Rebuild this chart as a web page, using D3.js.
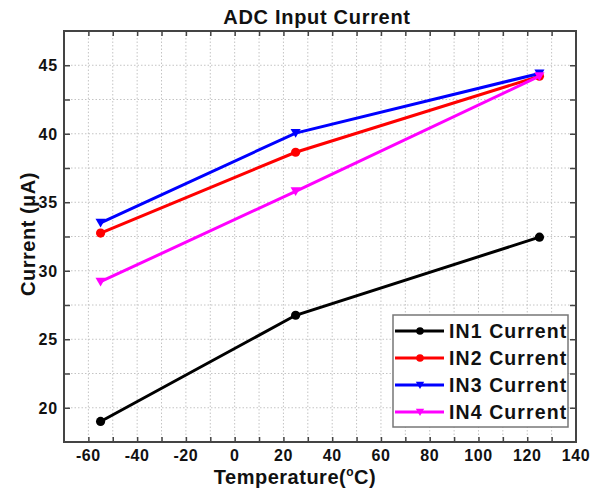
<!DOCTYPE html>
<html>
<head>
<meta charset="utf-8">
<script src="https://cdn.jsdelivr.net/npm/d3@7"></script>
<style>
  body { margin: 0; background: #fff; }
  text { font-family: "Liberation Sans", Arial, sans-serif; font-weight: bold; fill: #111; }
</style>
</head>
<body>
<div id="chart"></div>
<script>
// ADC input current vs temperature

// data
const temps = [-55, 25, 125];
const in1 = [19.0, 26.75, 32.45];
const in2 = [32.75, 38.65, 44.2];
const in3 = [33.5, 40.05, 44.4];
const in4 = [29.2, 35.8, 44.2];
const seriesNames = ["IN1 Current", "IN2 Current", "IN3 Current", "IN4 Current"];
const seriesColors = ["#000000", "#ff0000", "#0000ff", "#ff00ff"];
const seriesMarkers = ["circle", "circle", "down", "down"];
const xTicks = [-60, -40, -20, 0, 20, 40, 60, 80, 100, 120, 140];
const yTicks = [20, 25, 30, 35, 40, 45];

const W = 605, H = 491;
const margin = {top: 31, right: 29, bottom: 49, left: 64},
    width = W - margin.left - margin.right,
    height = H - margin.top - margin.bottom;

const svg = d3.select("#chart")
  .append("svg")
    .attr("width", W)
    .attr("height", H);

const g = svg.append("g")
    .attr("transform", "translate(" + margin.left + "," + margin.top + ")");

let x = d3.scaleLinear().domain([-70, 140]).range([0, width]);
let y = d3.scaleLinear().domain([17.5, 47.5]).range([height, 0]);

const xMinor = d3.range(-60, 140, 10);
const yMinor = d3.range(20, 47.5, 2.5);

// grid
g.append("g").selectAll("line")
  .data(xMinor)
  .join("line")
    .attr("x1", d => x(d)).attr("x2", d => x(d))
    .attr("y1", 0).attr("y2", height)
    .attr("stroke", "#c4c4c4")
    .attr("stroke-dasharray", "1.5,2");
g.append("g").selectAll("line")
  .data(yMinor)
  .join("line")
    .attr("y1", d => y(d)).attr("y2", d => y(d))
    .attr("x1", 0).attr("x2", width)
    .attr("stroke", "#c4c4c4")
    .attr("stroke-dasharray", "1.5,2");

// axes with inward ticks
const frame = "#444";
function styleAxis(sel) {
  sel.select(".domain").remove();
  sel.selectAll(".tick line").attr("stroke", frame).attr("stroke-width", 1.5);
}
g.append("g")
  .attr("transform", "translate(0," + height + ")")
  .call(d3.axisBottom(x).tickValues(xMinor).tickSize(-5).tickFormat(""))
  .call(styleAxis);
g.append("g")
  .call(d3.axisTop(x).tickValues(xMinor).tickSize(-5).tickFormat(""))
  .call(styleAxis);
g.append("g")
  .call(d3.axisLeft(y).tickValues(yMinor).tickSize(-6).tickFormat(""))
  .call(styleAxis);
g.append("g")
  .attr("transform", "translate(" + width + ",0)")
  .call(d3.axisRight(y).tickValues(yMinor).tickSize(-6).tickFormat(""))
  .call(styleAxis);

// tick labels
g.append("g").selectAll("text")
  .data(xTicks)
  .join("text")
    .attr("x", d => x(d))
    .attr("y", height + 19)
    .attr("text-anchor", "middle")
    .attr("font-size", 16)
    .attr("letter-spacing", 0.6)
    .text(d => d);
g.append("g").selectAll("text")
  .data(yTicks)
  .join("text")
    .attr("x", -6)
    .attr("y", d => y(d) + 6)
    .attr("text-anchor", "end")
    .attr("font-size", 16)
    .attr("letter-spacing", 0.8)
    .text(d => d);

// frame
g.append("rect")
  .attr("width", width).attr("height", height)
  .attr("fill", "none")
  .attr("stroke", frame)
  .attr("stroke-width", 2);

// series
const allSeries = [in1, in2, in3, in4];
const line = d3.line()
  .x((d, i) => x(temps[i]))
  .y(d => y(d));

function drawMarker(sel, kind, color, r) {
  if (kind === "circle") {
    sel.append("circle").attr("r", r).attr("fill", color);
  } else {
    const s = r * 1.1;
    sel.append("path")
      .attr("d", "M" + (-s) + "," + (-s * 0.8) + "L" + s + "," + (-s * 0.8) + "L0," + (s * 0.95) + "Z")
      .attr("fill", color);
  }
}

allSeries.forEach((vals, k) => {
  g.append("path")
    .datum(vals)
    .attr("d", line)
    .attr("fill", "none")
    .attr("stroke", seriesColors[k])
    .attr("stroke-width", 3);
  vals.forEach((v, i) => {
    const m = g.append("g")
      .attr("transform", "translate(" + x(temps[i]) + "," + y(v) + ")");
    drawMarker(m, seriesMarkers[k], seriesColors[k], 4.6);
  });
});

// legend
const legend = svg.append("g").attr("transform", "translate(393,315)");
legend.append("rect")
  .attr("width", 175).attr("height", 112)
  .attr("fill", "#fff")
  .attr("stroke", "#777")
  .attr("stroke-width", 1.5);
seriesNames.forEach((name, k) => {
  const yy = 16 + k * 27;
  const row = legend.append("g").attr("transform", "translate(0," + yy + ")");
  row.append("line")
    .attr("x1", 2).attr("x2", 51)
    .attr("stroke", seriesColors[k])
    .attr("stroke-width", 3);
  const m = row.append("g").attr("transform", "translate(27,0)");
  drawMarker(m, seriesMarkers[k], seriesColors[k], 3.8);
  row.append("text")
    .attr("x", 56)
    .attr("y", 7)
    .attr("font-size", 19.5)
    .attr("letter-spacing", 1.1)
    .text(name);
});

// title
svg.append("text")
  .attr("x", margin.left + width / 2 - 3)
  .attr("y", 24)
  .attr("text-anchor", "middle")
  .attr("font-size", 20)
  .attr("letter-spacing", 0.7)
  .text("ADC Input Current");

// axis titles
const xl = svg.append("text")
  .attr("x", 295)
  .attr("y", 484)
  .attr("text-anchor", "middle")
  .attr("font-size", 20)
  .attr("letter-spacing", 0.5);
xl.append("tspan").text("Temperature(");
xl.append("tspan").attr("font-size", 12).attr("dy", -8).text("o");
xl.append("tspan").attr("dy", 8).text("C)");

svg.append("text")
  .attr("transform", "translate(35," + (margin.top + 203) + ") rotate(-90)")
  .attr("text-anchor", "middle")
  .attr("font-size", 20)
  .attr("letter-spacing", 0.5)
  .text("Current (\u03bcA)");
</script>
</body>
</html>
